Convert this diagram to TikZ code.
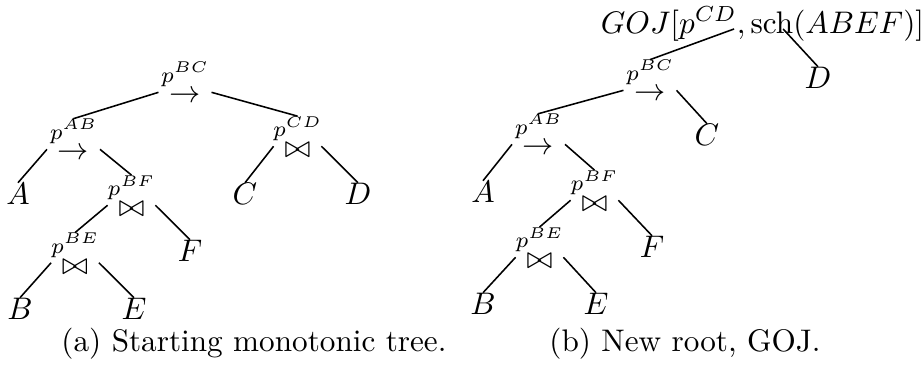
\documentclass[tikz,border=0pt]{standalone}
\usepackage{amsmath}
\usetikzlibrary{positioning}

\begin{document}
\begin{tikzpicture}[x=0.3205pt, y=-0.3205pt,
  op/.style={inner sep=3.3pt},
  pred/.style={inner sep=0pt, font=\scriptsize},
  leaf/.style={inner sep=0pt},
  edge/.style={line width=0.5pt}]

  \useasboundingbox (0,0) rectangle (922,372);

  % (a) starting tree
  \node[op] (sbc) at (185,97) {$\rightarrow$};
  \node[pred, above=-2.2pt of sbc] (sbcp) {$p^{BC}$};
  \node[op] (sab) at (73.5,154) {$\rightarrow$};
  \node[pred, above=-2.2pt of sab] (sabp) {$p^{AB}$};
  \node[op] (scd) at (297.5,150.5) {$\bowtie$};
  \node[pred, above=-3pt of scd] (scdp) {$p^{CD}$};
  \node[op] (sbf) at (131.5,209.5) {$\bowtie$};
  \node[pred, above=-3pt of sbf] (sbfp) {$p^{BF}$};
  \node[op] (sbe) at (75,267) {$\bowtie$};
  \node[pred, above=-3pt of sbe] (sbep) {$p^{BE}$};

  \node[leaf] (sA) at (18,194) {$A$};
  \node[leaf] (sC) at (245,194) {$C$};
  \node[leaf] (sD) at (358,194) {$D$};
  \node[leaf] (sF) at (190,251) {$F$};
  \node[leaf] (sB) at (20,309) {$B$};
  \node[leaf] (sE) at (134,309) {$E$};

  \draw[edge] (sbc.170) -- (sabp.north);
  \draw[edge] (sbc.10) -- (scdp.north);
  \draw[edge] (sab.170) -- (sA.north);
  \draw[edge] (sab.10) -- (sbfp.north);
  \draw[edge] (scd.170) -- (sC.north);
  \draw[edge] (scd.10) -- (sD.north);
  \draw[edge] (sbf.170) -- (sbep.north);
  \draw[edge] (sbf.10) -- (sF.north);
  \draw[edge] (sbe.170) -- (sB.north);
  \draw[edge] (sbe.10) -- (sE.north);

  \node[anchor=base] (capa) at (254,351) {(a) Starting monotonic tree.};

  % (b) new root
  \node[anchor=base] (goj) at (762.5,33) {$GOJ[p^{CD},\mathrm{sch}(ABEF)]$};
  \coordinate (gojl) at ([xshift=-9.1pt,yshift=1.3pt]goj.base);
  \coordinate (gojr) at ([xshift=6.6pt,yshift=1.3pt]goj.base);

  \node[op] (nbc) at (650,95) {$\rightarrow$};
  \node[pred, above=-2.2pt of nbc] (nbcp) {$p^{BC}$};
  \node[op] (nab) at (538.5,149) {$\rightarrow$};
  \node[pred, above=-2.2pt of nab] (nabp) {$p^{AB}$};
  \node[op] (nbf) at (594.5,204.5) {$\bowtie$};
  \node[pred, above=-3pt of nbf] (nbfp) {$p^{BF}$};
  \node[op] (nbe) at (539.5,261.5) {$\bowtie$};
  \node[pred, above=-3pt of nbe] (nbep) {$p^{BE}$};

  \node[leaf] (nD) at (818,78) {$D$};
  \node[leaf] (nC) at (707,135) {$C$};
  \node[leaf] (nA) at (483,192) {$A$};
  \node[leaf] (nF) at (652,247) {$F$};
  \node[leaf] (nB) at (483,304) {$B$};
  \node[leaf] (nE) at (596,304) {$E$};

  \draw[edge] (gojl) -- (nbcp.north);
  \draw[edge] (gojr) -- (nD.north);
  \draw[edge] (nbc.170) -- (nabp.north);
  \draw[edge] (nbc.10) -- (nC.north);
  \draw[edge] (nab.170) -- (nA.north);
  \draw[edge] (nab.10) -- (nbfp.north);
  \draw[edge] (nbf.170) -- (nbep.north);
  \draw[edge] (nbf.10) -- (nF.north);
  \draw[edge] (nbe.170) -- (nB.north);
  \draw[edge] (nbe.10) -- (nE.north);

  \node[anchor=base] (capb) at (685,351) {(b) New root, GOJ.};

\end{tikzpicture}
\end{document}
